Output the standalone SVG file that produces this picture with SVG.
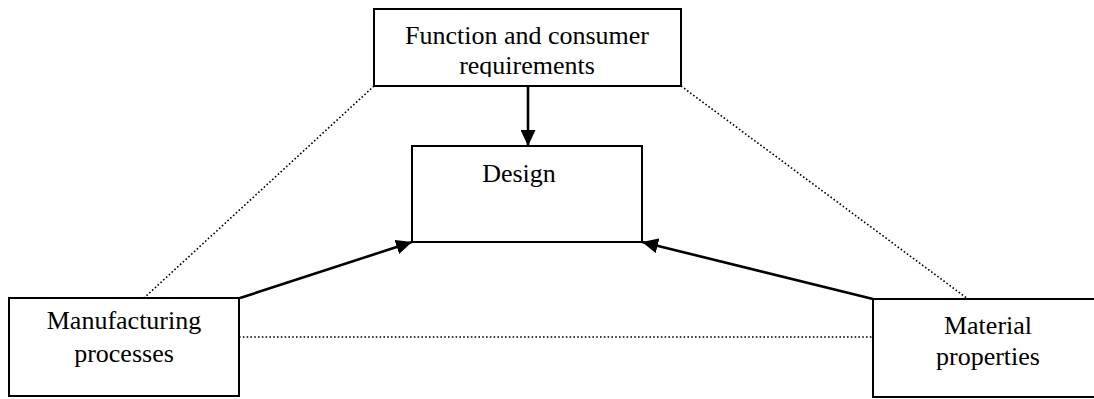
<svg xmlns="http://www.w3.org/2000/svg" width="1094" height="399" viewBox="0 0 1094 399">
  <style>
    .box { fill: #fff; stroke: #000; stroke-width: 2; }
    .lbl { font-family: "Liberation Serif", "Times New Roman", serif; font-size: 26px; fill: #000; text-anchor: middle; }
    .dot { fill: none; stroke: #000; stroke-width: 1.6; stroke-dasharray: 1.6 2.2; }
    .arr { fill: none; stroke: #000; stroke-width: 2.6; marker-end: url(#head); }
  </style>
  <defs>
    <marker id="head" markerUnits="userSpaceOnUse" markerWidth="16" markerHeight="15" refX="16" refY="7.5" orient="auto">
      <path d="M0,0 L16,7.5 L0,15 z" fill="#000"/>
    </marker>
    <clipPath id="topClip">
      <rect x="374" y="9" width="307" height="68"/>
    </clipPath>
  </defs>
  <rect width="1094" height="399" fill="#fff"/>

  <g id="connectors">
    <line class="dot" x1="374" y1="86" x2="144" y2="298"/>
    <line class="dot" x1="681" y1="86" x2="968" y2="299"/>
    <line class="dot" x1="239" y1="337" x2="873" y2="337"/>
    <line class="arr" x1="528" y1="86" x2="528" y2="146"/>
    <line class="arr" x1="240" y1="298" x2="412" y2="242"/>
    <line class="arr" x1="873" y1="299" x2="642" y2="242"/>
  </g>

  <g id="node-function">
    <rect class="box" x="374" y="9" width="307" height="77"/>
    <g clip-path="url(#topClip)">
      <text class="lbl" x="527" y="44">Function and consumer</text>
      <text class="lbl" x="527" y="74">requirements</text>
    </g>
  </g>

  <g id="node-design">
    <rect class="box" x="412" y="146" width="230" height="96"/>
    <text class="lbl" x="519" y="182">Design</text>
  </g>

  <g id="node-manufacturing">
    <rect class="box" x="9" y="298" width="230" height="98"/>
    <text class="lbl" x="124" y="329">Manufacturing</text>
    <text class="lbl" x="124" y="362">processes</text>
  </g>

  <g id="node-material">
    <rect class="box" x="873" y="299" width="240" height="98"/>
    <text class="lbl" x="988" y="334">Material</text>
    <text class="lbl" x="988" y="365">properties</text>
  </g>
</svg>
